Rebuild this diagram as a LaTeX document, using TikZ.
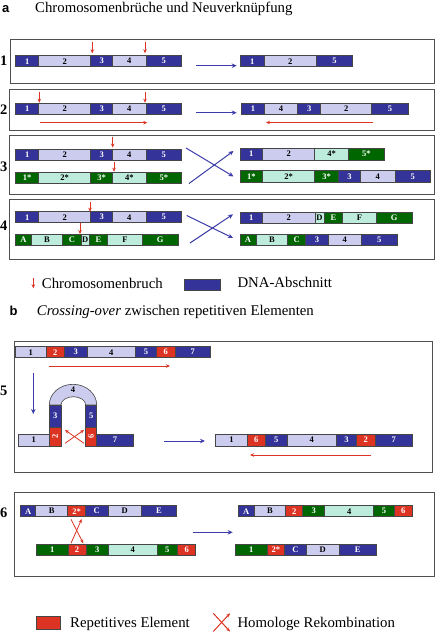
\documentclass[tikz,border=0pt]{standalone}
\usepackage{fontspec}
\setmainfont{Liberation Serif}
\newfontfamily\sansfnt{Liberation Sans}
\usetikzlibrary{arrows.meta}
\definecolor{dblue}{RGB}{51,51,153}
\definecolor{lblue}{RGB}{204,204,238}
\definecolor{dgreen}{RGB}{0,102,0}
\definecolor{lgreen}{RGB}{190,236,220}
\definecolor{rred}{RGB}{221,51,34}
\definecolor{ablue}{RGB}{60,60,170}
\definecolor{framegray}{RGB}{80,80,80}
\definecolor{segline}{RGB}{70,70,70}
\newcommand\segrow[3]{%
  \foreach \xa/\xb/\st/\lb in {#3}{%
    \pgfmathsetmacro\segw{\xb-\xa}%
    \pgfmathsetmacro\segh{#2-#1}%
    \node[seg,\st,minimum width=\segw pt,minimum height=\segh pt,anchor=north west] at (\xa,#1) {\lb};
  }}
\begin{document}
\begin{tikzpicture}[x=1pt,y=-1pt,
  seg/.style={draw=segline,line width=0.6pt,inner sep=0pt,outer sep=0pt,
    font=\fontsize{8.5}{8.5}\selectfont\bfseries},
  db/.style={fill=dblue,text=white},
  lb/.style={fill=lblue,text=black},
  dg/.style={fill=dgreen,text=white},
  lg/.style={fill=lgreen,text=black},
  rd/.style={fill=rred,text=white},
  frame/.style={draw=framegray,line width=0.9pt},
  barrow/.style={draw=ablue,line width=1pt,-{Stealth[length=5pt,width=4.5pt]}},
  rarrow/.style={draw=rred,line width=0.8pt,-{Stealth[length=4pt,width=3.5pt]}},
  rowlab/.style={anchor=base west,inner sep=0pt,font=\fontsize{14.5}{14.5}\selectfont\bfseries},
  txt/.style={anchor=base west,inner sep=0pt,font=\fontsize{14.8}{14.8}\selectfont},
  panlab/.style={anchor=base west,inner sep=0pt,font=\sansfnt\fontsize{13}{13}\selectfont\bfseries}
]
\useasboundingbox (0,0) rectangle (435,632);

% ---------- headings ----------
\node[panlab] (pa) at (2,12) {a};
\node[txt] (ta) at (35,12) {Chromosomenbrüche und Neuverknüpfung};

% ---------- frames a ----------
\draw[frame] (10,39) rectangle (434,83);
\draw[frame] (9.3,89.3) rectangle (434,130.7);
\draw[frame] (9.3,135.3) rectangle (434,194.3);
\draw[frame] (9.3,199.3) rectangle (434,259);

\node[rowlab] (l1) at (0,65.7) {1};
\node[rowlab] (l2) at (0,114.3) {2};
\node[rowlab] (l3) at (0,171.7) {3};
\node[rowlab] (l4) at (0,230) {4};

% ---------- row 1 ----------
\segrow{55.7}{66.7}{15.7/38.7/db/1,38.7/90.7/lb/2,90.7/112.7/db/3,112.7/146/lb/4,146/181.7/db/5}
\segrow{55.7}{66.7}{240.7/264/db/1,264/316.7/lb/2,316.7/352.3/db/5}
\coordinate (b1a) at (92.3,41.7); \coordinate (b1b) at (92.3,53.3);
\coordinate (b1c) at (145,41.7);  \coordinate (b1d) at (145,53.3);
\draw[rarrow] (b1a) -- (b1b);
\draw[rarrow] (b1c) -- (b1d);
\coordinate (a1s) at (196,65.7); \coordinate (a1e) at (236.7,65.7);
\draw[barrow] (a1s) -- (a1e);

% ---------- row 2 ----------
\segrow{103.3}{114.3}{15.7/38.7/db/1,38.7/90.7/lb/2,90.7/112.7/db/3,112.7/146/lb/4,146/181.7/db/5}
\segrow{103.3}{114.3}{241.7/264.3/db/1,264.3/297.7/lb/4,297.7/320.7/db/3,320.7/371.7/lb/2,371.7/408.3/db/5}
\coordinate (b2a) at (39.3,92.3); \coordinate (b2b) at (39.3,102.7);
\coordinate (b2c) at (145,92.3);  \coordinate (b2d) at (145,102.7);
\draw[rarrow] (b2a) -- (b2b);
\draw[rarrow] (b2c) -- (b2d);
\coordinate (r2s) at (40,122.7); \coordinate (r2e) at (147.3,122.7);
\draw[rarrow] (r2s) -- (r2e);
\coordinate (r2f) at (372.7,122.5); \coordinate (r2g) at (266,122.5);
\draw[rarrow] (r2f) -- (r2g);
\coordinate (a2s) at (196,112.7); \coordinate (a2e) at (236.7,112.7);
\draw[barrow] (a2s) -- (a2e);

% ---------- row 3 ----------
\segrow{149.3}{160.7}{15.7/38.7/db/1,38.7/90.7/lb/2,90.7/112.7/db/3,112.7/146/lb/4,146/181.7/db/5}
\segrow{172.3}{183.3}{15.7/38.7/dg/1*,38.7/90.7/lg/2*,90.7/112.7/dg/3*,112.7/146/lg/4*,146/181.7/dg/5*}
\segrow{148.3}{160}{240/262.7/db/1,262.7/314.7/lb/2,314.7/348.3/lg/4*,348.3/384.3/dg/5*}
\segrow{170.7}{182.3}{240/262.7/dg/1*,262.7/314.7/lg/2*,314.7/338.3/dg/3*,338.3/360.7/db/3,360.7/395/lb/4,395/430.7/db/5}
\coordinate (b3a) at (112.7,136.5); \coordinate (b3b) at (112.7,147.5);
\coordinate (b3c) at (114,161.5);   \coordinate (b3d) at (114,171.7);
\draw[rarrow] (b3a) -- (b3b);
\draw[rarrow] (b3c) -- (b3d);
\coordinate (c3a) at (186,148); \coordinate (c3b) at (233.5,176.5);
\coordinate (c3c) at (189,183.5); \coordinate (c3d) at (233.5,151);
\draw[barrow] (c3a) -- (c3b);
\draw[barrow] (c3c) -- (c3d);

% ---------- row 4 ----------
\segrow{211.7}{222.7}{15.7/38.7/db/1,38.7/90.7/lb/2,90.7/112.7/db/3,112.7/146/lb/4,146/181.7/db/5}
\segrow{234}{245.7}{15.7/31/dg/A,31/62.7/lg/B,62.7/81/dg/C,81/89.3/lg/D,89.3/107.7/dg/E,107.7/142/lg/F,142/178.3/dg/G}
\segrow{212.3}{223.3}{240/262.7/db/1,262.7/315/lb/2,315/324/lg/D,324/342.7/dg/E,342.7/376.3/lg/F,376.3/412.3/dg/G}
\segrow{234}{245.7}{240/256/dg/A,256/287.7/lg/B,287.7/305.7/dg/C,305.7/328.3/db/3,328.3/361.3/lb/4,361.3/397.3/db/5}
\coordinate (b4a) at (90,201.7); \coordinate (b4b) at (90,211.7);
\coordinate (b4c) at (80,223.3); \coordinate (b4d) at (80,234);
\draw[rarrow] (b4a) -- (b4b);
\draw[rarrow] (b4c) -- (b4d);
\coordinate (c4a) at (186.7,215.5); \coordinate (c4b) at (233,238);
\coordinate (c4c) at (190,243); \coordinate (c4d) at (233,214.3);
\draw[barrow] (c4a) -- (c4b);
\draw[barrow] (c4c) -- (c4d);

% ---------- legend a ----------
\coordinate (lga) at (33.3,278.3); \coordinate (lgb) at (33.3,288.3);
\draw[rarrow] (lga) -- (lgb);
\node[txt] (lgt1) at (41.7,288.3) {Chromosomenbruch};
\node[seg,db,minimum width=36.4pt,minimum height=11.7pt,anchor=north west] (lgbox) at (184.3,279) {};
\node[txt] (lgt2) at (237.3,287.3) {DNA-Abschnitt};

% ---------- heading b ----------
\node[panlab] (pb) at (9.3,315.7) {b};
\node[txt] (tb) at (36.7,315.7) {\textit{Crossing-over} zwischen repetitiven Elementen};

% ---------- frames b ----------
\draw[frame] (14.3,341) rectangle (432.3,472);
\draw[frame] (14.3,492.7) rectangle (434,576);
\node[rowlab] (l5) at (0,395) {5};
\node[rowlab] (l6) at (0,517.3) {6};

% ---------- row 5 ----------
\segrow{346.7}{357.7}{15/46.3/lb/1,46.3/64.3/rd/2,64.3/87.3/db/3,87.3/135.3/lb/4,135.3/156.7/db/5,156.7/175/rd/6,175/210.7/db/7}
\coordinate (r5s) at (49.3,366); \coordinate (r5e) at (170,366);
\draw[rarrow] (r5s) -- (r5e);
\coordinate (d5s) at (33.3,372.7); \coordinate (d5e) at (33.3,414);
\draw[barrow] (d5s) -- (d5e);
% hairpin
\filldraw[fill=lblue,draw=segline,line width=0.6pt]
  (49.3,405) arc[start angle=180,end angle=0,x radius=23.7pt,y radius=20.7pt]
  -- (85.7,405) arc[start angle=0,end angle=180,x radius=12.35pt,y radius=8.3pt] -- cycle;
\node[font=\fontsize{8.5}{8.5}\selectfont\bfseries,inner sep=0pt] (h4) at (73,389.5) {4};
\segrow{405}{427.3}{49.3/61/db/3,85.7/96.7/db/5}
\segrow{434.3}{446}{18.3/49.3/lb/1,96.7/133.3/db/7}
\node[seg,rd,minimum width=11.7pt,minimum height=18.7pt,anchor=north west] (h2) at (49.3,427.3) {};
\node[seg,rd,minimum width=11pt,minimum height=18.7pt,anchor=north west] (h6) at (85.7,427.3) {};
\node[text=white,rotate=90,font=\fontsize{8.5}{8.5}\selectfont\bfseries,inner sep=0pt] at (h2.center) {2};
\node[text=white,rotate=90,font=\fontsize{8.5}{8.5}\selectfont\bfseries,inner sep=0pt] at (h6.center) {6};
\coordinate (x5a) at (84,443.3); \coordinate (x5b) at (65,430);
\coordinate (x5c) at (65,443.3); \coordinate (x5d) at (84,430);
\draw[rarrow] (x5a) -- (x5b);
\draw[rarrow] (x5c) -- (x5d);
\coordinate (a5s) at (164,441); \coordinate (a5e) at (205,441);
\draw[barrow] (a5s) -- (a5e);
\segrow{434.3}{446}{215.7/247.3/lb/1,247.3/265/rd/6,265/287.3/db/5,287.3/336.3/lb/4,336.3/356.7/db/3,356.7/375/rd/2,375/412.3/db/7}
\coordinate (r5f) at (370.7,455); \coordinate (r5g) at (250,455);
\draw[rarrow] (r5f) -- (r5g);

% ---------- row 6 ----------
\segrow{505.7}{516.7}{20.7/35.7/db/A,35.7/67.7/lb/B,67.7/85.3/rd/2*,85.3/108/db/C,108/141.3/lb/D,141.3/176.7/db/E}
\segrow{544}{555.3}{36.7/68/dg/1,68/86/rd/2,86/108.3/dg/3,108.3/157/lg/4,157/177.7/dg/5,177.7/195.7/rd/6}
\coordinate (x6a) at (71,543.3); \coordinate (x6b) at (81.7,519);
\coordinate (x6c) at (71,519.3); \coordinate (x6d) at (83.3,543.3);
\draw[rarrow] (x6a) -- (x6b);
\draw[rarrow] (x6c) -- (x6d);
\coordinate (a6s) at (192.7,532.3); \coordinate (a6e) at (232.7,532.3);
\draw[barrow] (a6s) -- (a6e);
\segrow{505.7}{516.7}{238.3/254/db/A,254/285.7/lb/B,285.7/302.7/rd/2,302.7/324.7/dg/3,324.7/373.7/lg/4,373.7/394.3/dg/5,394.3/412.3/rd/6}
\segrow{544}{555.3}{235.7/267/dg/1,267/284.7/rd/2*,284.7/306.3/db/C,306.3/339.3/lb/D,339.3/376/db/E}

% ---------- legend b ----------
\node[seg,rd,minimum width=23.3pt,minimum height=12.6pt,anchor=north west] (lgred) at (36.7,616.7) {};
\node[txt] (lgt3) at (70,627.3) {Repetitives Element};
\coordinate (xla) at (213.3,631.5); \coordinate (xlb) at (230,613.3);
\coordinate (xlc) at (213.3,613.3); \coordinate (xld) at (230,631.5);
\draw[rarrow,line width=1pt] (xla) -- (xlb);
\draw[rarrow,line width=1pt] (xlc) -- (xld);
\node[txt] (lgt4) at (237.3,627.3) {Homologe Rekombination};
\end{tikzpicture}
\end{document}
